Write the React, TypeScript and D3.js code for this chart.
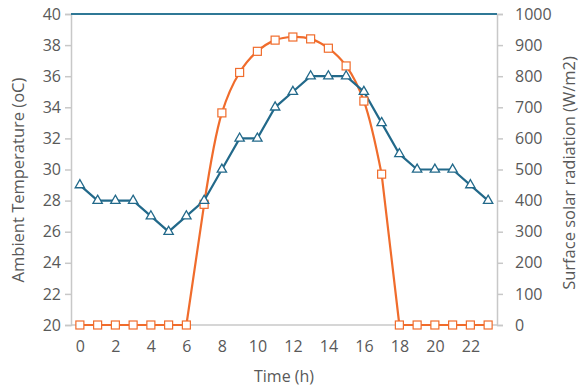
import React, { useEffect, useRef } from "react";
import * as d3 from "d3";

const hours = d3.range(0, 24);
const temperature = [29, 28, 28, 28, 27, 26, 27, 28, 30, 32, 32, 34, 35, 36, 36, 36, 35, 33, 31, 30, 30, 30, 29, 28];
const radiation = [0, 0, 0, 0, 0, 0, 0, 388, 682, 812, 880, 916, 926, 920, 890, 833, 720, 485, 0, 0, 0, 0, 0, 0];
const xTicks = [0, 2, 4, 6, 8, 10, 12, 14, 16, 18, 20, 22];
const tempTicks = [20, 22, 24, 26, 28, 30, 32, 34, 36, 38, 40];
const radTicks = [0, 100, 200, 300, 400, 500, 600, 700, 800, 900, 1000];

const width = 579;
const height = 389;
const margin = { top: 14, right: 82, bottom: 64, left: 71 };
const blue = "#22698a";
const orange = "#f06c2c";
const textGray = "#595959";
const axisGray = "#c8c8c8";
const font = "'Open Sans', Arial, sans-serif";

export default function App() {
  const svgRef = useRef<SVGSVGElement>(null);

  useEffect(() => {
    const svg = d3.select(svgRef.current);
    svg.selectAll("*").remove();

    const x0 = margin.left;
    const x1 = width - margin.right;
    const y0 = height - margin.bottom;
    const y1 = margin.top;

    const xScale = d3.scalePoint<number>().domain(hours).range([x0, x1]).padding(0.5);
    const yTemp = d3.scaleLinear().domain([20, 40]).range([y0, y1]);
    const yRad = d3.scaleLinear().domain([0, 1000]).range([y0, y1]);

    // left axis
    const leftAxis = svg
      .append("g")
      .attr("transform", `translate(${x0},0)`)
      .call(d3.axisLeft(yTemp).tickValues(tempTicks).tickSize(6).tickPadding(4));
    leftAxis.select(".domain").attr("stroke", axisGray).attr("stroke-width", 1.5);
    leftAxis.selectAll(".tick line").attr("stroke", axisGray).attr("stroke-width", 1.5);
    leftAxis.selectAll("text").attr("fill", textGray).attr("font-size", 16).attr("font-family", font);

    // right axis
    const rightAxis = svg
      .append("g")
      .attr("transform", `translate(${x1},0)`)
      .call(d3.axisRight(yRad).tickValues(radTicks).tickFormat(d3.format("d")).tickSize(6).tickPadding(12));
    rightAxis.select(".domain").attr("stroke", axisGray).attr("stroke-width", 1.5);
    rightAxis.selectAll(".tick line").attr("stroke", axisGray).attr("stroke-width", 1.5);
    rightAxis.selectAll("text").attr("fill", textGray).attr("font-size", 16).attr("font-family", font);

    // bottom axis
    const bottomAxis = svg
      .append("g")
      .attr("transform", `translate(0,${y0})`)
      .call(d3.axisBottom(xScale).tickValues(xTicks).tickSize(0).tickPadding(16));
    bottomAxis.select(".domain").attr("stroke", axisGray).attr("stroke-width", 1.5).attr("d", `M${x0},0H${x1}`);
    bottomAxis.selectAll("text").attr("fill", textGray).attr("font-size", 16).attr("font-family", font);

    // top line at 40
    svg
      .append("line")
      .attr("x1", x0)
      .attr("x2", x1)
      .attr("y1", yTemp(40))
      .attr("y2", yTemp(40))
      .attr("stroke", "#2f7896")
      .attr("stroke-width", 2);

    // radiation: straight where it sits on zero, smoothed over the day
    const pts = radiation.map((d, i) => [xScale(hours[i]) as number, yRad(d)] as [number, number]);
    const firstSun = radiation.findIndex((d) => d > 0);
    let lastSun = radiation.length - 1;
    while (radiation[lastSun] === 0) lastSun--;
    const straight = d3.line();
    const smooth = d3.line().curve(d3.curveCatmullRom.alpha(0.5));
    const radPaths = [
      straight(pts.slice(0, firstSun + 1)),
      smooth(pts.slice(firstSun, lastSun + 1)),
      straight(pts.slice(lastSun)),
    ];
    svg
      .selectAll(".rad")
      .data(radPaths)
      .enter()
      .append("path")
      .attr("d", (d) => d as string)
      .attr("fill", "none")
      .attr("stroke", orange)
      .attr("stroke-width", 2.2)
      .attr("stroke-linejoin", "round");

    // temperature
    const tempLine = d3
      .line<number>()
      .x((d, i) => xScale(hours[i]) as number)
      .y((d) => yTemp(d));
    svg
      .append("path")
      .attr("d", tempLine(temperature))
      .attr("fill", "none")
      .attr("stroke", blue)
      .attr("stroke-width", 2.2);

    // square markers
    svg
      .selectAll(".sq")
      .data(radiation)
      .enter()
      .append("rect")
      .attr("x", (d, i) => (xScale(hours[i]) as number) - 4)
      .attr("y", (d) => yRad(d) - 4)
      .attr("width", 8)
      .attr("height", 8)
      .attr("fill", "white")
      .attr("stroke", orange)
      .attr("stroke-width", 1.2);

    // triangle markers
    const tri = d3.symbol().type(d3.symbolTriangle).size(38);
    svg
      .selectAll(".tri")
      .data(temperature)
      .enter()
      .append("path")
      .attr("d", tri())
      .attr("transform", (d, i) => `translate(${xScale(hours[i])},${yTemp(d)})`)
      .attr("fill", "white")
      .attr("stroke", blue)
      .attr("stroke-width", 1.3);

    // axis titles
    svg
      .append("text")
      .attr("transform", `translate(24,180) rotate(-90)`)
      .attr("text-anchor", "middle")
      .attr("fill", textGray)
      .attr("font-size", 16.5)
      .attr("font-family", font)
      .text("Ambient Temperature (oC)");

    svg
      .append("text")
      .attr("transform", `translate(575,173) rotate(-90)`)
      .attr("text-anchor", "middle")
      .attr("fill", textGray)
      .attr("font-size", 16.5)
      .attr("font-family", font)
      .text("Surface solar radiation (W/m2)");

    svg
      .append("text")
      .attr("x", (x0 + x1) / 2)
      .attr("y", 382)
      .attr("text-anchor", "middle")
      .attr("fill", textGray)
      .attr("font-size", 16)
      .attr("font-family", font)
      .text("Time (h)");
  }, []);

  return (
    <svg
      ref={svgRef}
      width={width}
      height={height}
      style={{ position: "absolute", left: 0, top: 0, background: "white" }}
    ></svg>
  );
}
